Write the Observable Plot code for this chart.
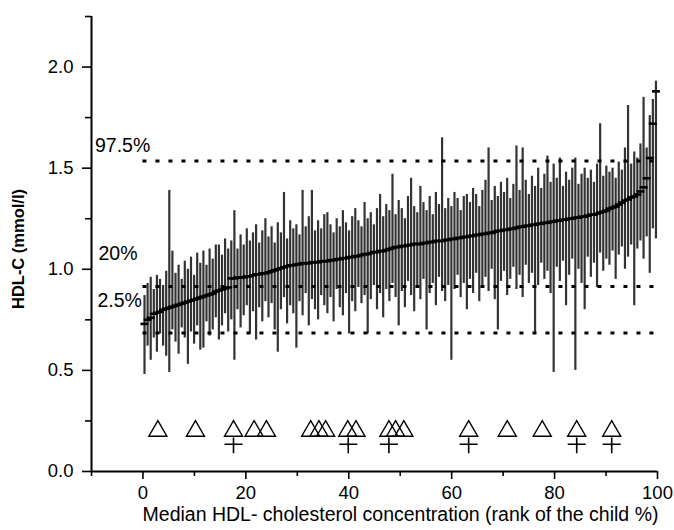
<!DOCTYPE html>
<html><head><meta charset="utf-8">
<script src="https://cdn.jsdelivr.net/npm/d3@7"></script>
<script src="https://cdn.jsdelivr.net/npm/@observablehq/plot@0.6"></script>
<style>body{margin:0;background:#fff}</style>
</head><body><div id="chart"></div>
<script>
// Median HDL-C per child, sorted by rank (mmol/l)
const medians = [
0.73,0.75,0.76,0.78,0.785,0.79,0.80,0.805,0.81,0.815,
0.82,0.825,0.83,0.835,0.84,0.845,0.85,0.855,0.86,0.865,
0.87,0.875,0.88,0.89,0.895,0.90,0.905,0.91,0.955,0.955,
0.96,0.96,0.96,0.965,0.965,0.97,0.975,0.975,0.98,0.98,
0.985,0.99,0.995,1.00,1.005,1.01,1.015,1.02,1.02,1.025,
1.025,1.03,1.03,1.03,1.035,1.035,1.035,1.04,1.04,1.04,
1.045,1.045,1.05,1.05,1.055,1.055,1.06,1.06,1.065,1.065,
1.07,1.075,1.075,1.08,1.085,1.085,1.09,1.09,1.095,1.10,
1.105,1.11,1.11,1.115,1.115,1.12,1.12,1.125,1.125,1.125,
1.13,1.13,1.135,1.135,1.14,1.14,1.14,1.145,1.145,1.15,
1.15,1.155,1.155,1.16,1.16,1.165,1.165,1.17,1.17,1.175,
1.175,1.18,1.18,1.185,1.19,1.19,1.195,1.195,1.20,1.20,
1.205,1.21,1.21,1.215,1.215,1.22,1.22,1.225,1.225,1.23,
1.23,1.235,1.235,1.24,1.24,1.245,1.245,1.25,1.25,1.255,
1.255,1.26,1.26,1.265,1.27,1.27,1.275,1.28,1.285,1.29,
1.30,1.305,1.31,1.32,1.33,1.34,1.345,1.355,1.36,1.37,
1.385,1.405,1.45,1.55,1.72,1.88];
// Highest measurement per child
const highs = [
0.87,0.93,0.96,0.90,0.97,0.95,0.92,0.99,1.39,1.09,
0.98,1.02,0.95,1.04,1.00,1.06,0.97,1.08,1.03,1.09,
1.02,1.10,1.05,1.12,1.12,1.07,1.15,1.10,1.14,1.29,
1.10,1.17,1.12,1.20,1.14,1.18,1.22,1.13,1.19,1.25,
1.16,1.21,1.13,1.23,1.18,1.38,1.15,1.24,1.20,1.22,
1.17,1.39,1.21,1.26,1.39,1.19,1.24,1.20,1.27,1.28,
1.22,1.18,1.25,1.21,1.29,1.23,1.19,1.26,1.30,1.24,
1.21,1.33,1.25,1.28,1.22,1.30,1.37,1.26,1.32,1.29,
1.47,1.27,1.34,1.30,1.25,1.36,1.45,1.31,1.28,1.41,
1.33,1.29,1.36,1.27,1.38,1.32,1.65,1.30,1.35,1.31,
1.38,1.35,1.29,1.36,1.37,1.33,1.40,1.37,1.31,1.39,
1.44,1.60,1.34,1.41,1.36,1.43,1.38,1.45,1.35,1.42,
1.61,1.39,1.60,1.44,1.37,1.46,1.41,1.50,1.40,1.47,
1.56,1.43,1.52,1.45,1.55,1.41,1.48,1.44,1.50,1.55,
1.42,1.47,1.50,1.45,1.49,1.43,1.52,1.72,1.46,1.51,
1.48,1.50,1.45,1.53,1.49,1.60,1.81,1.52,1.58,1.55,
1.62,1.85,1.60,1.76,1.84,1.93];
// Lowest measurement per child
const lows = [
0.48,0.62,0.55,0.66,0.59,0.68,0.62,0.57,0.49,0.70,
0.64,0.58,0.71,0.66,0.53,0.69,0.63,0.72,0.60,0.61,
0.74,0.67,0.70,0.76,0.65,0.72,0.78,0.69,0.75,0.55,
0.80,0.71,0.77,0.82,0.68,0.79,0.65,0.81,0.74,0.84,
0.76,0.83,0.70,0.59,0.80,0.86,0.73,0.82,0.78,0.61,
0.84,0.77,0.88,0.72,0.85,0.80,0.75,0.87,0.82,0.78,
0.86,0.74,0.90,0.81,0.77,0.88,0.68,0.84,0.79,0.91,
0.83,0.87,0.68,0.85,0.92,0.80,0.88,0.76,0.90,0.84,
0.93,0.86,0.72,0.89,0.81,0.94,0.87,0.79,0.91,0.85,
0.95,0.70,0.88,0.93,0.82,0.96,0.89,0.84,0.92,0.55,
0.90,0.97,0.86,0.93,0.80,0.95,0.88,0.98,0.84,0.92,
0.96,0.89,1.00,0.85,0.70,0.94,0.99,0.87,0.95,1.01,
0.90,0.97,0.86,1.02,0.93,0.98,0.68,0.92,1.03,0.95,
0.99,0.88,0.49,1.01,0.94,1.04,0.82,0.97,1.05,0.50,
1.00,0.93,0.80,1.06,0.96,1.03,0.91,1.08,0.99,1.05,
1.02,1.09,0.95,1.07,1.11,1.00,1.06,1.12,0.82,1.10,
1.14,1.05,1.16,0.98,1.20,1.15];

const refLevels = [1.535, 0.915, 0.685];
const refLabels = ["97.5%", "20%", "2.5%"];
const triangleRanks = [2.9,10.2,17.6,21.6,24.0,32.6,34.2,35.5,39.8,41.4,47.8,49.1,50.7,63.3,70.8,77.6,84.3,91.1];
const crossRanks = [17.6,39.9,47.8,63.3,84.3,91.1];
const xTicks = [0,20,40,60,80,100];
const xMinorTicks = [-10,10,30,50,70,90];
const yTicks = [0,0.5,1,1.5,2];
const yMinorTicks = [0.25,0.75,1.25,1.75,2.25];
const xTitle = "Median HDL- cholesterol concentration (rank of the child %)";
const yTitle = "HDL-C (mmol/l)";

const n = medians.length;
const children = medians.map((m, i) => ({rank: (i + 0.5) / n * 100, med: m, lo: lows[i], hi: highs[i]}));
const refs = refLevels.map((v, i) => ({value: v, label: refLabels[i]}));

const hline = {draw(ctx, size) { const r = Math.sqrt(size / Math.PI); ctx.moveTo(-r, 0); ctx.lineTo(r, 0); }};
const dagger = {draw(ctx, size) { const r = Math.sqrt(size / Math.PI); ctx.moveTo(-r, 0); ctx.lineTo(r, 0); ctx.moveTo(0, -0.75 * r); ctx.lineTo(0, r); }};

const labelDx = [3.5, 7, 6];
const labelDy = [-15, -33, -32];

const chart = Plot.plot({
  width: 674, height: 530,
  marginLeft: 91, marginRight: 17, marginTop: 16, marginBottom: 59,
  style: {fontFamily: "'Liberation Sans', Arial, sans-serif", fontSize: "18px", color: "black", background: "white"},
  x: {domain: [-10, 100]},
  y: {domain: [0, 2.25]},
  marks: [
    Plot.ruleX(children, {x: "rank", y1: "lo", y2: "hi", stroke: "#333", strokeWidth: 2.2}),
    Plot.dot(children, {x: "rank", y: "med", symbol: hline, r: 4, fill: "none", stroke: "black", strokeWidth: 2.6}),
    Plot.ruleY(refs, {y: "value", x1: 0, x2: 100, stroke: "black", strokeWidth: 3, strokeDasharray: "4 9"}),
    ...refs.map((r, i) => Plot.text([r], {y: "value", text: "label", frameAnchor: "left", textAnchor: "start", dx: labelDx[i], dy: labelDy[i], fontSize: 19.5, fill: "black"})),
    Plot.dot(triangleRanks, {x: d => d, y: () => 0.2, symbol: "triangle", r: 6.7, fill: "none", stroke: "black", strokeWidth: 1.4}),
    Plot.dot(crossRanks, {x: d => d, y: () => 0.135, symbol: dagger, r: 9, fill: "none", stroke: "black", strokeWidth: 1.6}),
    Plot.ruleX([-10], {stroke: "black", strokeWidth: 2}),
    Plot.ruleY([0], {stroke: "black", strokeWidth: 2}),
    Plot.axisX({ticks: xTicks, tickSize: 8, tickPadding: 6, strokeWidth: 1.6, label: null, fontSize: 18.5}),
    Plot.axisX({ticks: xMinorTicks, tickSize: 5, tickFormat: () => "", strokeWidth: 1.6, label: null}),
    Plot.axisY({ticks: yTicks, tickSize: 9, tickPadding: 9, tickFormat: d3.format(".1f"), strokeWidth: 1.6, label: null, fontSize: 18.5}),
    Plot.axisY({ticks: yMinorTicks, tickSize: 6, tickFormat: () => "", strokeWidth: 1.6, label: null}),
    Plot.text([xTitle], {frameAnchor: "bottom", textAnchor: "middle", dx: 26, dy: 49, fontSize: 19.5, fill: "black"}),
    Plot.text([yTitle], {frameAnchor: "left", textAnchor: "middle", rotate: -90, dx: -73, dy: 5, fontSize: 16.5, fontWeight: "bold", fill: "black"})
  ]
});
document.getElementById("chart").appendChild(chart);
</script>
</body></html>
